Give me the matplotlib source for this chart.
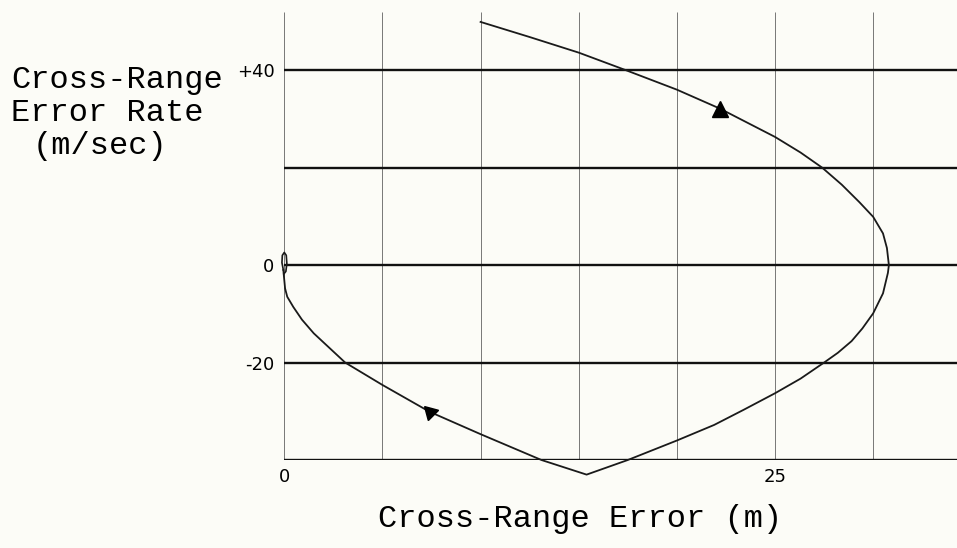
import matplotlib
matplotlib.use('Agg')
from matplotlib import pyplot as plt

# phase-plane trajectory (cross-range error, error rate)
curve_x = [10.0, 12.5, 15.0, 17.4, 20.0, 22.2, 25.0, 26.3, 27.4, 28.4, 29.3, 30.0,
           30.5, 30.7, 30.8, 30.75, 30.5, 30.0, 29.45, 28.9, 28.2, 27.5, 26.3, 25.0,
           23.4, 21.9, 20.0, 17.5, 15.4, 13.1, 10.0, 7.4, 5.0, 3.1, 1.5, 0.9, 0.46,
           0.15, 0.04, -0.05]
curve_y = [49.9, 46.8, 43.6, 40.0, 36.0, 32.1, 26.3, 23.1, 20.0, 16.5, 12.9, 9.9,
           6.5, 3.5, 0.0, -1.6, -5.8, -9.9, -13.0, -15.6, -18.0, -20.0, -23.3, -26.3,
           -29.7, -32.8, -36.0, -40.0, -43.0, -40.0, -34.7, -30.1, -24.6, -20.0, -14.0,
           -11.2, -8.6, -6.5, -4.8, -1.0]

# small loop the trajectory settles into at the origin
loop_x = [-0.05, -0.12, -0.10, 0.0, 0.10, 0.13, 0.08, -0.02]
loop_y = [-1.0, 0.5, 2.0, 2.6, 2.0, 0.3, -1.3, -1.8]

arrow_x = [22.2, 7.4]
arrow_y = [32.1, -30.1]

x_grid = [0, 5, 10, 15, 20, 25, 30]
y_grid = [-40, -20, 0, 20, 40]
x_ticks = [0, 25]
x_tick_labels = ['0', '25']
y_ticks = [40, 0, -20]
y_tick_labels = ['+40', '0', '-20']

X_MAX = 34.27
Y_MIN, Y_MAX = -40, 52
BG = '#fcfcf7'
MONO = ['Liberation Mono', 'DejaVu Sans Mono']
NARROW = ['Liberation Sans Narrow', 'DejaVu Sans']


def draw():
    fig = plt.figure(figsize=(9.57, 5.48), dpi=100, facecolor=BG)
    ax = fig.add_axes([284.3 / 957, 88 / 548, 672.7 / 957, 448.3 / 548])
    ax.set_facecolor(BG)
    for s in ax.spines.values():
        s.set_visible(False)

    ax.vlines(x_grid, Y_MIN, Y_MAX, colors='#777777', linewidth=0.7)
    ax.hlines(y_grid, 0, X_MAX, colors='#111111', linewidth=1.7)

    ax.plot(curve_x, curve_y, color='#1a1a1a', linewidth=1.3, clip_on=False)
    ax.plot(loop_x, loop_y, color='#1a1a1a', linewidth=1.2, clip_on=False)
    ax.plot(arrow_x[0], arrow_y[0], marker='^', markersize=12, color='black', clip_on=False)
    ax.plot(arrow_x[1], arrow_y[1], marker=(3, 0, 165), markersize=12, color='black', clip_on=False)

    ax.set_xlim(0, X_MAX)
    ax.set_ylim(Y_MIN, Y_MAX)
    ax.set_xticks(x_ticks)
    ax.set_xticklabels(x_tick_labels, family=NARROW, fontsize=13)
    ax.set_yticks(y_ticks)
    ax.set_yticklabels(y_tick_labels, family=NARROW, fontsize=13)
    ax.tick_params(axis='x', length=0, pad=6)
    ax.tick_params(axis='y', length=0, pad=7)

    # axis captions in typewriter style
    fig.text(11 / 957, 1 - 88 / 548, 'Cross-Range', family=MONO, fontsize=23, va='baseline')
    fig.text(11 / 957, 1 - 121 / 548, 'Error Rate', family=MONO, fontsize=23, va='baseline')
    fig.text(33 / 957, 1 - 154 / 548, '(m/sec)', family=MONO, fontsize=23, va='baseline')
    fig.text(580 / 957, 1 - 527 / 548, 'Cross-Range Error (m)', family=MONO, fontsize=23,
             va='baseline', ha='center')

    fig.savefig('out.png', dpi=100, facecolor=BG)


draw()
